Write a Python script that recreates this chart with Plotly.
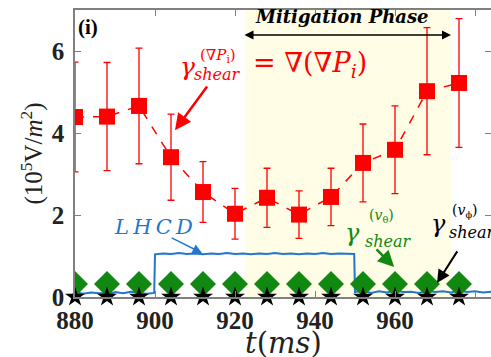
import plotly.graph_objects as go

# ---- data ----
t_ms = [880, 888, 896, 904, 912, 920, 928, 936, 944, 952, 960, 968, 976]
gamma_gradP = [4.39, 4.40, 4.66, 3.41, 2.56, 2.03, 2.42, 2.01, 2.44, 3.27, 3.59, 5.02, 5.22]
gamma_gradP_err = [1.34, 1.32, 1.41, 1.05, 0.74, 0.62, 0.72, 0.58, 0.70, 0.95, 1.07, 1.55, 1.57]
gamma_vtheta = [0.32, 0.32, 0.32, 0.32, 0.32, 0.32, 0.32, 0.32, 0.32, 0.32, 0.32, 0.32, 0.32]
gamma_vphi = [0.0, 0.0, 0.0, 0.0, 0.0, 0.0, 0.0, 0.0, 0.0, 0.0, 0.0, 0.0, 0.0]

lhcd_t = [880, 882, 884, 886, 888, 888.6, 889, 890, 892, 894, 896, 898, 899.8,
          900, 902, 904, 906, 908, 910, 912, 914, 916, 918, 920, 922, 924, 926,
          928, 930, 932, 934, 936, 938, 940, 942, 944, 946, 948, 949.8,
          950, 952, 954, 956, 958, 960, 962, 964, 966, 968, 970, 972, 974,
          976, 978, 980, 982, 984]
lhcd_v = [0.12, 0.08, 0.11, 0.09, 0.10, 0.24, 0.08, 0.12, 0.09, 0.13, 0.10, 0.08, 0.10,
          1.04, 1.06, 1.05, 1.07, 1.05, 1.06, 1.04, 1.06, 1.05, 1.07, 1.05, 1.06, 1.04, 1.06,
          1.05, 1.07, 1.05, 1.06, 1.04, 1.06, 1.05, 1.07, 1.05, 1.06, 1.05, 1.05,
          0.12, 0.15, 0.10, 0.14, 0.11, 0.16, 0.12, 0.13, 0.10, 0.15, 0.12, 0.14, 0.11,
          0.16, 0.12, 0.14, 0.11, 0.13]

mitigation_start, mitigation_end = 922.5, 974.0

SERIF = "Liberation Serif, Times New Roman, Times, DejaVu Serif, serif"
ISERIF = "DejaVu Serif, serif"
RED = "#ff0000"
GREEN = "#118811"
BLUE = "#2277cc"

fig = go.Figure()

fig.add_shape(type="rect", xref="x", yref="paper", x0=mitigation_start, x1=mitigation_end,
              y0=0, y1=1, fillcolor="#fffde6", line_width=0, layer="below")

fig.add_trace(go.Scatter(x=lhcd_t, y=lhcd_v, mode="lines",
                         line=dict(color=BLUE, width=2), name="LHCD"))
fig.add_trace(go.Scatter(x=t_ms, y=gamma_gradP, mode="lines+markers",
                         line=dict(color=RED, width=1.5, dash="dash"),
                         marker=dict(symbol="square", size=16, color=RED),
                         error_y=dict(type="data", array=gamma_gradP_err, color=RED,
                                      thickness=1.3, width=3.5),
                         name="gradP"))
fig.add_trace(go.Scatter(x=t_ms, y=gamma_vtheta, mode="markers",
                         marker=dict(symbol="diamond", size=20, color=GREEN),
                         name="vtheta"))
fig.add_trace(go.Scatter(x=t_ms, y=gamma_vphi, mode="markers",
                         marker=dict(symbol="star", size=15, color="black"),
                         name="vphi", cliponaxis=False))

ann = []
def txt(x, y, s, size, color="black", xanchor="center", family=ISERIF):
    ann.append(dict(x=x, y=y, xref="x", yref="y", text=s, showarrow=False,
                    font=dict(family=family, size=size, color=color), xanchor=xanchor))

def arrow(x0, y0, x1, y1, color, width, size):
    ann.append(dict(x=x1, y=y1, ax=x0, ay=y0, xref="x", yref="y", axref="x", ayref="y",
                    text="", showarrow=True, arrowhead=2, arrowsize=size,
                    arrowwidth=width, arrowcolor=color))

# (i)
txt(883.3, 6.59, "<b>(i)</b>", 21, family=SERIF)
# Mitigation phase
txt(946.8, 6.85, "<b><i>Mitigation Phase</i></b>", 18)
ann.append(dict(x=mitigation_end, y=6.39, ax=mitigation_start - 0.5, ay=6.39,
                xref="x", yref="y", axref="x", ayref="y", text="", showarrow=True,
                arrowhead=2, startarrowhead=2, arrowside="end+start",
                arrowsize=1.2, arrowwidth=1.5, arrowcolor="black"))
# red label
txt(908.0, 5.62, "<i>γ</i>", 25, RED)
txt(915.5, 5.42, "<i>shear</i>", 16, RED)
txt(915.8, 5.88, "(∇<i>P</i><sub>i</sub>)", 15, RED)
txt(938.8, 5.66, "= ∇(∇<i>P<sub>i</sub></i>)", 27, RED)
arrow(913.3, 5.17, 905.0, 4.07, RED, 2.5, 1.3)
# LHCD
txt(899.5, 1.70, "<i>L\u2009H\u2009C\u2009D</i>", 21, BLUE)
arrow(903.8, 1.46, 911.8, 1.07, BLUE, 1.5, 1.3)
# green label
txt(956.5, 1.98, "(<i>v</i><sub>θ</sub>)", 14, GREEN)
txt(949.4, 1.55, "<i>γ</i>", 24, GREEN)
txt(958.3, 1.35, "<i>shear</i>", 16, GREEN)
arrow(955.0, 1.20, 959.8, 0.73, GREEN, 2.5, 1.3)
# black label
txt(977.5, 2.10, "(<i>v</i><sub>ϕ</sub>)", 14, "black")
txt(970.8, 1.78, "<i>γ</i>", 24, "black")
txt(973.0, 1.58, "<i>shear</i>_", 16, "black", xanchor="left")
arrow(975.8, 1.15, 970.5, 0.34, "black", 2.0, 1.3)

# x-axis title as paper annotation
ann.append(dict(x=0.5, y=-0.16, xref="paper", yref="paper", yanchor="middle",
                text="<i>t</i>(<i>ms</i>)", showarrow=False,
                font=dict(family=ISERIF, size=29, color="#222")))

axis_common = dict(showline=True, linecolor="#808080", linewidth=1.5, mirror="ticks",
                   ticks="inside", ticklen=6, tickcolor="#808080", showgrid=False,
                   zeroline=False, automargin=False,
                   tickfont=dict(family=SERIF, size=25, color="#222"))

fig.update_layout(
    width=491, height=357,
    margin=dict(l=75, r=0, t=10, b=60),
    paper_bgcolor="white", plot_bgcolor="white",
    showlegend=False,
    annotations=ann,
    xaxis=dict(range=[880, 984], tick0=880, dtick=20, ticklabelstandoff=0,
               **axis_common),
    yaxis=dict(range=[0, 7], tick0=0, dtick=2, ticklabelstandoff=4,
               title=dict(text="(10<sup>5</sup>V/<i>m</i><sup>2</sup>)", standoff=2,
                          font=dict(family=SERIF, size=25, color="#222")),
               **axis_common),
)
fig.update_xaxes(tickprefix="<b>", ticksuffix="</b>")
fig.update_yaxes(tickprefix="<b>", ticksuffix="</b>")

fig.write_html("out.html", config={"displayModeBar": False},
               post_script="document.body.style.margin='0';document.body.style.overflow='hidden';")
